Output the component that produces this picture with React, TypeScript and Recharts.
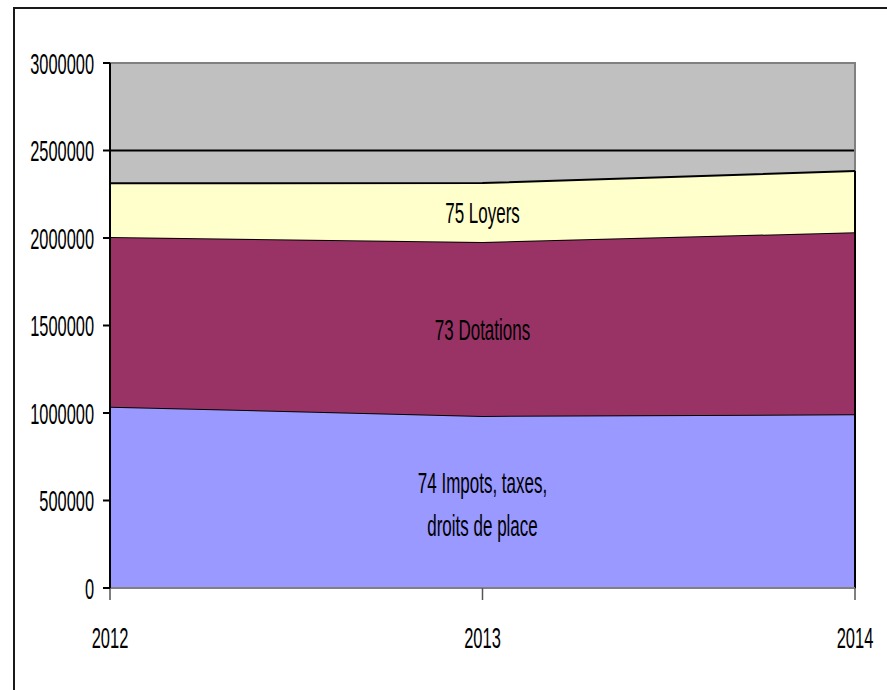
import React from 'react';
import {
  AreaChart,
  Area,
  XAxis,
  YAxis,
  CartesianGrid,
  ReferenceDot,
  ReferenceLine,
  ReferenceArea,
} from 'recharts';

// ---- data ----
const years = ['2012', '2013', '2014'];
const impots = [1036000, 983000, 993000];
const dotations = [970000, 994000, 1040000];
const loyers = [307000, 337000, 350000];
const yTicks = [0, 500000, 1000000, 1500000, 2000000, 2500000, 3000000];

const labelTexts = [['74 Impots, taxes,', 'droits de place'], ['73 Dotations'], ['75 Loyers']];
const labelYear = ['2013', '2013', '2013'];
const labelValue = [483000, 1477000, 2146000];

const data = years.map((y, i) => ({
  year: y,
  impots: impots[i],
  dotations: dotations[i],
  loyers: loyers[i],
}));
const lastTotal = impots[2] + dotations[2] + loyers[2];

const FONT = "'Liberation Sans', Arial, sans-serif";

function ScaledText(props: { x: number; y: number; text: string; fs: number; sy: number; anchor: string }) {
  const { x, y, text, fs, sy, anchor } = props;
  return (
    <text
      transform={`translate(${x},${y}) scale(1,${sy})`}
      x={0}
      y={0.358 * fs}
      textAnchor={anchor as any}
      fontFamily={FONT}
      fontSize={fs}
      fill="#000"
    >
      {text}
    </text>
  );
}

const YTick = (p: any) => (
  <ScaledText x={p.x} y={p.y} text={String(p.payload.value)} fs={16.4} sy={1.8} anchor="end" />
);
const XTick = (p: any) => (
  <ScaledText x={p.x} y={p.y} text={String(p.payload.value)} fs={16.5} sy={1.78} anchor="middle" />
);

const makeLabel = (lines: string[]) => (p: any) => {
  const cx = p.cx;
  const cy = p.cy;
  const gap = 43;
  const start = cy - ((lines.length - 1) * gap) / 2;
  return (
    <g>
      {lines.map((t, k) => (
        <ScaledText key={k} x={cx} y={start + k * gap} text={t} fs={17} sy={1.75} anchor="middle" />
      ))}
    </g>
  );
};

export default function App() {
  return (
    <div style={{ position: 'absolute', left: 0, top: 0, width: 887, height: 690, overflow: 'hidden', background: '#fff' }}>
      <div
        style={{
          position: 'absolute',
          left: 13,
          top: 7,
          width: 1000,
          height: 1000,
          borderTop: '2px solid #1a1a1a',
          borderLeft: '2px solid #1a1a1a',
        }}
      />
      <div style={{ position: 'absolute', left: 0, top: 0 }}>
        <AreaChart width={887} height={690} data={data} margin={{ top: 63, right: 32, bottom: 42, left: 0 }}>
          <CartesianGrid vertical={false} stroke="#000" strokeWidth={2} fill="#C0C0C0" fillOpacity={1} />
          <ReferenceArea
            x1="2012"
            x2="2014"
            y1={0}
            y2={3000000}
            fill="none"
            stroke="#808080"
            strokeWidth={2}
            ifOverflow="visible"
          />
          <XAxis
            dataKey="year"
            tick={XTick}
            tickSize={12}
            tickMargin={37}
            height={60}
            axisLine={{ stroke: '#808080', strokeWidth: 2 }}
            tickLine={{ stroke: '#555', strokeWidth: 1.5 }}
            interval={0}
          />
          <YAxis
            domain={[0, 3000000]}
            ticks={yTicks}
            width={110}
            tick={YTick}
            tickSize={7}
            tickMargin={9}
            axisLine={{ stroke: '#000', strokeWidth: 2 }}
            tickLine={{ stroke: '#000', strokeWidth: 2 }}
            interval={0}
          />
          <Area
            type="linear"
            dataKey="impots"
            stackId="a"
            fill="#9999FF"
            fillOpacity={1}
            stroke="#000"
            strokeWidth={2}
            isAnimationActive={false}
            dot={false}
            activeDot={false}
          />
          <Area
            type="linear"
            dataKey="dotations"
            stackId="a"
            fill="#993366"
            fillOpacity={1}
            stroke="#000"
            strokeWidth={2}
            isAnimationActive={false}
            dot={false}
            activeDot={false}
          />
          <Area
            type="linear"
            dataKey="loyers"
            stackId="a"
            fill="#FFFFCC"
            fillOpacity={1}
            stroke="#000"
            strokeWidth={2}
            isAnimationActive={false}
            dot={false}
            activeDot={false}
          />
          <ReferenceLine
            segment={[
              { x: '2014', y: 0 },
              { x: '2014', y: lastTotal },
            ]}
            stroke="#000"
            strokeWidth={2}
            ifOverflow="visible"
          />
          <ReferenceLine y={0} stroke="#000" strokeWidth={2} ifOverflow="visible" />
          {labelTexts.map((lines, i) => (
            <ReferenceDot
              key={i}
              x={labelYear[i]}
              y={labelValue[i]}
              r={0}
              shape={makeLabel(lines)}
              ifOverflow="visible"
            />
          ))}
        </AreaChart>
      </div>
    </div>
  );
}
